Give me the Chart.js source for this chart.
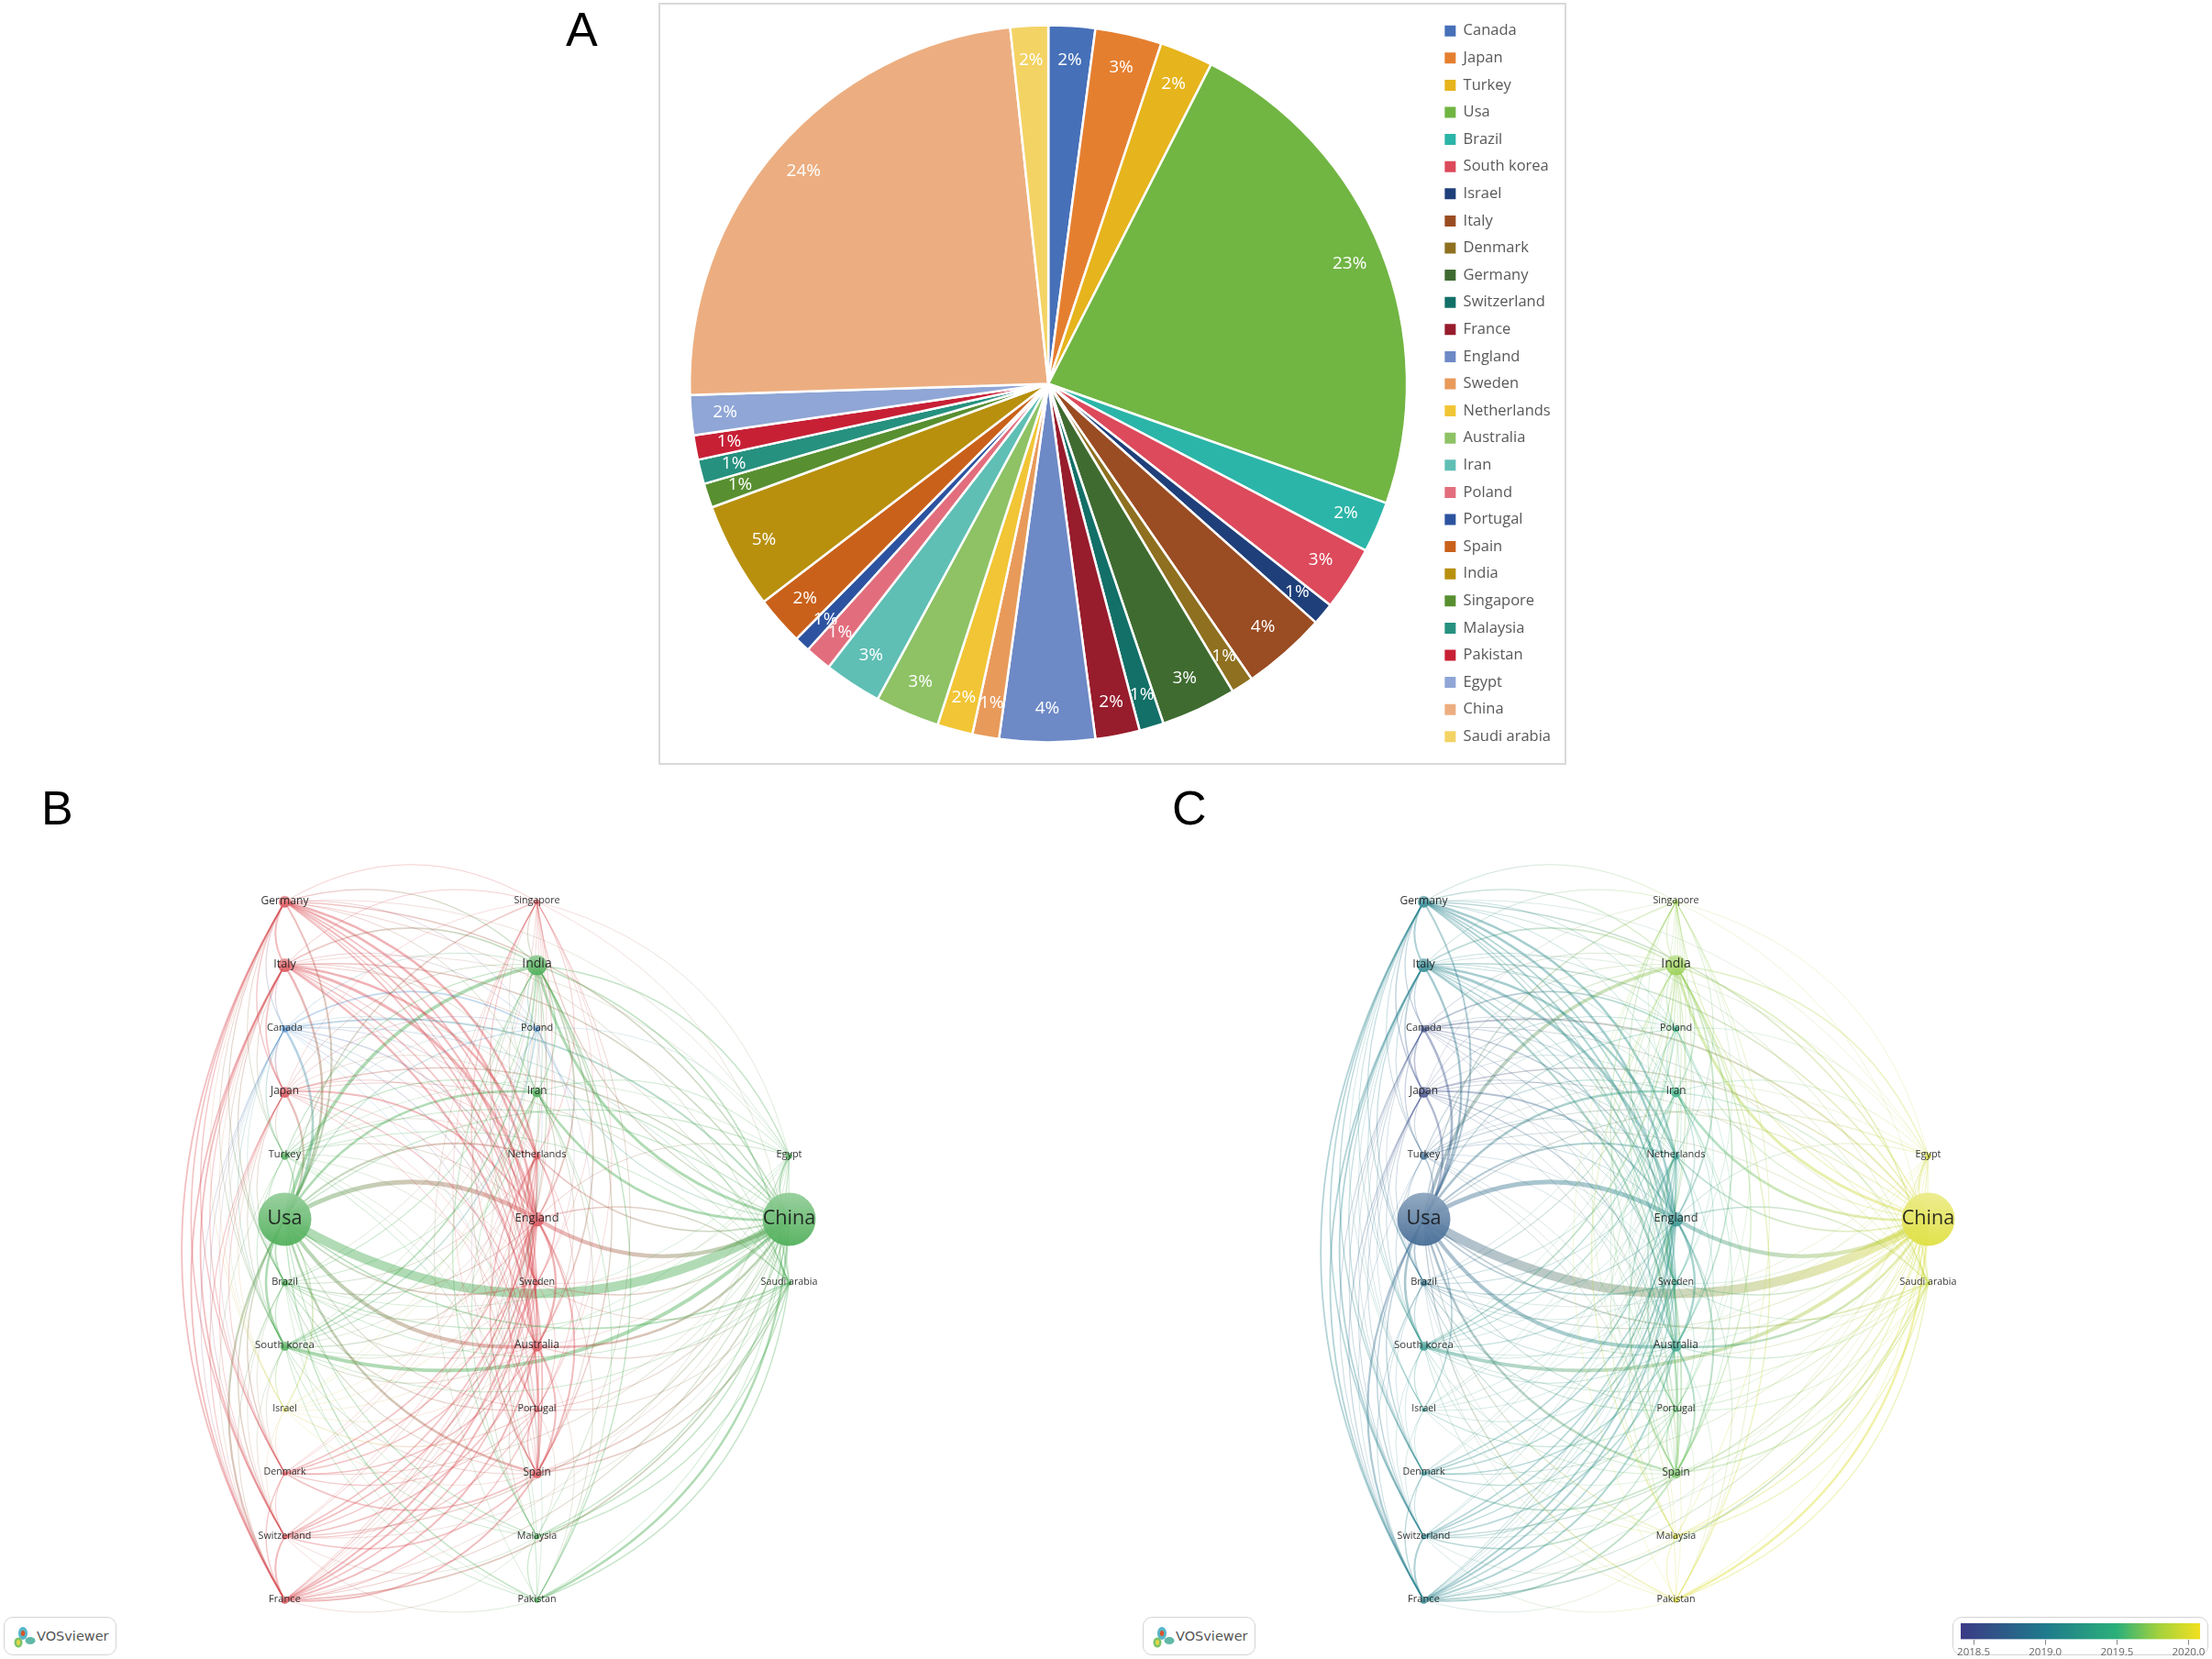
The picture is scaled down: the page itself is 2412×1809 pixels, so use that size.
<!DOCTYPE html>
<html><head><meta charset="utf-8">
<script src="https://cdn.jsdelivr.net/npm/chart.js@4/dist/chart.umd.min.js"></script>
<style>
html,body{margin:0;padding:0;background:#fff;width:2412px;height:1809px;overflow:hidden}
canvas{position:absolute;display:block}
.letter{position:absolute;font-family:"Liberation Sans",Arial,sans-serif;font-size:52px;color:#000;line-height:52px}
#frame{position:absolute;left:718px;top:3px;width:986px;height:827px;border:2px solid #d9d9d9}
.badge{position:absolute;top:1763px;width:121px;height:40px;border:1.5px solid #d4d4d4;border-radius:10px;background:#fff;font-family:"DejaVu Sans",sans-serif;font-size:14.5px;color:#555;line-height:40px}
.badge span{position:absolute;left:35px}
.badge svg{position:absolute;left:9px;top:8px}
#cbbox{position:absolute;left:2129px;top:1763px;width:277px;height:40px;border:1.5px solid #d4d4d4;border-radius:10px;background:#fff}
</style></head><body>
<div id="frame"></div>
<canvas id="pie" width="977" height="825" style="left:724px;top:6px"></canvas>
<div class="letter" style="left:617px;top:6px">A</div>
<div class="letter" style="left:45px;top:855px">B</div>
<div class="letter" style="left:1278px;top:855px">C</div>
<canvas id="netB" width="883" height="958" style="left:143.5px;top:885px"></canvas>
<canvas id="netC" width="883" height="958" style="left:1386px;top:885px"></canvas>
<div class="badge" style="left:4px"><svg width="26" height="26" viewBox="0 0 26 26"><ellipse cx="11" cy="9" rx="5" ry="7" fill="#58b6c9"/><ellipse cx="6" cy="19" rx="4.5" ry="5.5" fill="#7cc26a"/><ellipse cx="19" cy="17" rx="5.5" ry="4" fill="#5fb8a8"/><ellipse cx="6" cy="19" rx="2" ry="3" fill="#e3d84a"/><ellipse cx="11" cy="9" rx="2.2" ry="3" fill="#d8532a"/></svg><span>VOSviewer</span></div>
<div class="badge" style="left:1246px"><svg width="26" height="26" viewBox="0 0 26 26"><ellipse cx="11" cy="9" rx="5" ry="7" fill="#58b6c9"/><ellipse cx="6" cy="19" rx="4.5" ry="5.5" fill="#7cc26a"/><ellipse cx="19" cy="17" rx="5.5" ry="4" fill="#5fb8a8"/><ellipse cx="6" cy="19" rx="2" ry="3" fill="#e3d84a"/><ellipse cx="11" cy="9" rx="2.2" ry="3" fill="#d8532a"/></svg><span>VOSviewer</span></div>
<div id="cbbox"></div>
<canvas id="cbar" width="279" height="42" style="left:2129px;top:1763px"></canvas>
<script>
// ---------- Panel A ----------
const pieCountries = ["Canada","Japan","Turkey","Usa","Brazil","South korea","Israel","Italy","Denmark","Germany","Switzerland","France","England","Sweden","Netherlands","Australia","Iran","Poland","Portugal","Spain","India","Singapore","Malaysia","Pakistan","Egypt","China","Saudi arabia"];
const pieShares = [2.1,3.0,2.4,22.9,2.3,2.9,1.0,3.8,1.0,3.4,1.1,2.0,4.3,1.2,1.6,2.9,2.6,1.2,0.7,2.2,4.8,1.1,1.1,1.1,1.8,23.8,1.7];
const pieColors = ["#4670B8","#E57F30","#E6B41C","#71B543","#2BB5A8","#DC4A5C","#1F3F7A","#9A4C22","#8E7020","#3F6B30","#127068","#971C2C","#6D89C6","#E89A5A","#F1C535","#8EC265","#5FBFB5","#E26E7D","#2D53A0","#C9611A","#B8900E","#588F30","#26917F","#C72035","#8FA6D6","#ECAE80","#F4D365"];

// ---------- Panels B and C ----------
const nodeNames  = ["Germany","Italy","Canada","Japan","Turkey","Usa","Brazil","South korea","Israel","Denmark","Switzerland","France","Singapore","India","Poland","Iran","Netherlands","England","Sweden","Australia","Portugal","Spain","Malaysia","Pakistan","Egypt","China","Saudi arabia"];
const nodeColumn = [0,0,0,0,0,0,0,0,0,0,0,0,1,1,1,1,1,1,1,1,1,1,1,1,2,2,2];
const nodeRow    = [0,1,2,3,4,5,6,7,8,9,10,11,0,1,2,3,4,5,6,7,8,9,10,11,4,5,6];
const nodeRadius = [6.5,7.5,4,6,4.5,29,4,5,2.5,3,3,4,3,11,3.5,5.5,4,8,3,6,3,5.5,3,3,3.5,29,3];
const nodeCluster= ["red","red","blue","red","green","green","green","green","yellow","red","red","red","red","green","blue","green","red","red","red","red","red","red","green","green","green","green","green"];
const nodeYear   = [2019.05,2019.05,2018.55,2018.5,2018.75,2018.7,2018.9,2019.2,2019.2,2019.1,2019.05,2019.05,2019.75,2019.75,2019.45,2019.45,2019.25,2019.15,2019.3,2019.3,2019.6,2019.65,2019.95,2020,2019.95,2020,2019.9];
const clusterColors = {red:"#d8434a",green:"#3aa545",blue:"#4c8fcc",yellow:"#d4d84a"};
const yearStops = [[2018.41,"#3b3a85"],[2019.0,"#1f7a8c"],[2019.5,"#2cb07a"],[2019.8,"#a6d23c"],[2020.08,"#f2e020"]];
const yearTicks = [2018.5,2019.0,2019.5,2020.0];
const linkRows = [
 ["Usa",{China:47,England:22,India:15,Australia:16,Iran:10,Canada:10,Germany:7,Italy:9,Japan:8,"South korea":10,Netherlands:7,Spain:9,"Saudi arabia":6,Brazil:6,Turkey:5,France:8,Switzerland:4,Denmark:4,Sweden:5,Israel:5,Poland:3,Portugal:3,Singapore:4,Malaysia:3,Pakistan:4,Egypt:3}],
 ["China",{England:18,Australia:10,India:12,Iran:10,"South korea":17,Japan:5,Canada:7,Germany:5,Italy:5,Singapore:4,Netherlands:5,Pakistan:9,"Saudi arabia":6,Egypt:5,Malaysia:4,Spain:5,Brazil:3,Turkey:3,Poland:3,Sweden:4,France:3,Denmark:2,Switzerland:3,Portugal:3}],
 ["India",{England:6,Italy:5,Germany:4,Iran:4,"Saudi arabia":5,"South korea":6,Australia:5,Spain:4,Japan:2,Egypt:4,Malaysia:3,Pakistan:4,Turkey:3,Canada:2,Brazil:3,Singapore:3,Poland:3,Netherlands:2,France:3,Portugal:2,Sweden:2,Denmark:1,Switzerland:2,Israel:1}],
 ["England",{Italy:13,Germany:10,Netherlands:8,Australia:9,Sweden:8,Spain:7,France:7,Japan:7,Switzerland:6,Denmark:6,Portugal:5,Canada:4,Singapore:3,Iran:3,Turkey:2,Brazil:3,Poland:2,"South korea":3,Egypt:2,"Saudi arabia":4,Pakistan:2,Malaysia:2,Israel:1}],
 ["Germany",{Italy:7,France:6,Spain:6,Netherlands:9,Switzerland:5,Sweden:6,Australia:7,Denmark:4,Japan:4,Canada:3,Singapore:2,Portugal:3,Iran:2,Poland:2,Turkey:2,Brazil:3,"South korea":2,"Saudi arabia":2,Egypt:1,Israel:1}],
 ["Italy",{France:6,Spain:8,Netherlands:10,Switzerland:6,Australia:5,Sweden:3,Denmark:3,Japan:5,Canada:3,Portugal:2,Singapore:2,Iran:2,Poland:2,Turkey:2,Brazil:3,"South korea":2,Israel:1,"Saudi arabia":2,Egypt:1}],
 ["France",{Spain:7,Switzerland:7,Denmark:4,Netherlands:7,Australia:7,Sweden:5,Canada:2,Japan:3,Portugal:4,Singapore:2,Brazil:2,"Saudi arabia":6,Malaysia:1,Turkey:1,Iran:1,Poland:1,Egypt:1}],
 ["Spain",{Australia:7,Portugal:5,Netherlands:5,Denmark:5,Switzerland:5,Sweden:3,Japan:2,Canada:2,Brazil:3,"Saudi arabia":4,Iran:2,Egypt:1,Poland:1,Singapore:1}],
 ["Australia",{Netherlands:4,Sweden:4,Denmark:5,Switzerland:5,Portugal:5,Japan:4,Canada:3,Singapore:3,Iran:2,"Saudi arabia":3,Malaysia:2,Pakistan:1,"South korea":2,Brazil:2,Egypt:1,Turkey:1,Israel:1}],
 ["Netherlands",{Sweden:5,Denmark:5,Switzerland:5,Japan:2,Canada:2,Portugal:2,Brazil:2,"South korea":1,Singapore:2,Iran:1,Poland:1,Turkey:1}],
 ["Canada",{Poland:6,Japan:5,Turkey:3,"South korea":2,Sweden:2,Switzerland:2,Denmark:1,Iran:1,Israel:1,Brazil:1,Pakistan:1,"Saudi arabia":2}],
 ["Poland",{Iran:2,Sweden:1,Portugal:1,Turkey:1,Japan:2,Egypt:1,"South korea":4}],
 ["Japan",{Turkey:2,"South korea":2,Singapore:1,Iran:1,Sweden:2,Denmark:2,Switzerland:2,Brazil:2,Portugal:1,"Saudi arabia":2,Israel:1}],
 ["Iran",{Turkey:3,"South korea":3,"Saudi arabia":3,Egypt:2,Malaysia:2,Pakistan:2,Singapore:1,Brazil:2,Sweden:1,Portugal:1}],
 ["Turkey",{"South korea":2,Brazil:2,"Saudi arabia":2,Egypt:1,Pakistan:2,Malaysia:1,Spain:1,Sweden:1}],
 ["Brazil",{"South korea":3,Portugal:3,"Saudi arabia":2,Denmark:1,Sweden:1,Switzerland:1,Egypt:1,Pakistan:1,Malaysia:1,Singapore:1}],
 ["South korea",{"Saudi arabia":2,Pakistan:2,Egypt:1,Malaysia:2,Sweden:1,Spain:2,Singapore:1,Israel:3,Denmark:1,Switzerland:1}],
 ["Israel",{Portugal:3,Spain:1,Sweden:1,Denmark:1,Switzerland:1,Netherlands:1,Singapore:1}],
 ["Denmark",{Switzerland:2,Sweden:4,Portugal:3,Singapore:1}],
 ["Switzerland",{Sweden:4,Portugal:3,Singapore:1,Pakistan:1,"Saudi arabia":1,Malaysia:1}],
 ["Sweden",{Portugal:2,Singapore:1,"Saudi arabia":2,Egypt:1}],
 ["Portugal",{"Saudi arabia":2,Singapore:1,Malaysia:1,Egypt:1}],
 ["Singapore",{Egypt:1,Malaysia:2,Pakistan:1,"Saudi arabia":1}],
 ["Malaysia",{Pakistan:3,"Saudi arabia":4,Egypt:3}],
 ["Pakistan",{"Saudi arabia":4,Egypt:2}],
 ["Egypt",{"Saudi arabia":2}]
];

Chart.defaults.animation = false;
Chart.defaults.font.family = '"Open Sans",sans-serif';

function hexRgb(h){return [1,3,5].map(i=>parseInt(h.substr(i,2),16));}
function rgba(c,a){return `rgba(${c[0]|0},${c[1]|0},${c[2]|0},${a})`;}
function mixWhite(c,t){return c.map(v=>v+(255-v)*t);}
function yearColor(y){
  for(let i=1;i<yearStops.length;i++){
    if(y<=yearStops[i][0]){
      const [y0,a]=yearStops[i-1],[y1,b]=yearStops[i];
      const t=Math.max(0,(y-y0)/(y1-y0)),A=hexRgb(a),B=hexRgb(b);
      return A.map((v,k)=>v+(B[k]-v)*t);
    }
  }
  return hexRgb(yearStops[yearStops.length-1][1]);
}

// ---- pie percent labels ----
const pieLabelPlugin={id:'pieLabels',afterDatasetsDraw(chart){
  const {ctx}=chart,meta=chart.getDatasetMeta(0);
  ctx.save();ctx.font='19px "Open Sans",sans-serif';ctx.fillStyle='#fff';ctx.textAlign='center';ctx.textBaseline='middle';
  meta.data.forEach((arc,i)=>{
    const mid=(arc.startAngle+arc.endAngle)/2,r=arc.outerRadius*0.905;
    ctx.fillText(Math.round(pieShares[i])+'%',arc.x+Math.cos(mid)*r,arc.y+Math.sin(mid)*r);
  });
  ctx.restore();
}};
new Chart(document.getElementById('pie'),{
  type:'pie',
  data:{labels:pieCountries,datasets:[{data:pieShares,backgroundColor:pieColors,borderColor:'#fff',borderWidth:2.5,radius:391}]},
  options:{responsive:false,layout:{padding:0},
    plugins:{tooltip:{enabled:false},
      legend:{position:'right',labels:{boxWidth:12,boxHeight:12,padding:13.1,color:'#595959',font:{size:16.5,family:'"Open Sans",sans-serif'},
        generateLabels:()=>pieCountries.map((t,i)=>({text:t,fillStyle:pieColors[i],strokeStyle:pieColors[i],lineWidth:0,index:i,fontColor:'#595959'}))}}}},
  plugins:[pieLabelPlugin]
});

// ---- network panels ----
const idx=Object.fromEntries(nodeNames.map((n,i)=>[n,i]));
const linkList=[];
linkRows.forEach(([a,m])=>Object.entries(m).forEach(([b,w])=>linkList.push([idx[a],idx[b],w])));
linkList.sort((p,q)=>p[2]-q[2]);

// which end comes first decides on which side of the chord a link bows
function orient(a,b){
  if(nodeColumn[a]>nodeColumn[b]) [a,b]=[b,a];
  if(nodeColumn[a]===nodeColumn[b]){
    if(nodeRow[a]>nodeRow[b]) [a,b]=[b,a];
    if(nodeColumn[a]===0){
      if(nodeNames[b]==="Usa") return [b,a];
      if(nodeNames[a]==="Usa"&&nodeNames[b]==="Israel") return [b,a];
      return [a,b];
    }
    if(nodeColumn[a]===1) return (nodeRow[a]+nodeRow[b])%2?[a,b]:[b,a];
    return [a,b];
  }
  if(nodeNames[b]==="China"){
    if(nodeColumn[a]===1) return [a,b];
    return nodeRow[a]<5?[b,a]:[a,b];
  }
  if(nodeNames[a]==="Usa") return nodeRow[b]<=5?[b,a]:[a,b];
  return nodeRow[a]<=5?[b,a]:[a,b];
}
const curvePlugin={id:'curvedLinks',
  beforeDatasetDraw(chart,args){
    if(args.meta.type!=='line') return;
    const ds=chart.data.datasets[args.index],[p,q]=args.meta.data,ctx=chart.ctx;
    if(![p.x,p.y,q.x,q.y].every(Number.isFinite)) return false;
    const dx=q.x-p.x,dy=q.y-p.y,k=0.295;
    const cx=(p.x+q.x)/2-dy*k,cy=(p.y+q.y)/2+dx*k;
    const g=ctx.createLinearGradient(p.x,p.y,q.x,q.y);
    g.addColorStop(0,rgba(ds.endColors[0],ds.alpha));g.addColorStop(1,rgba(ds.endColors[1],ds.alpha));
    ctx.save();ctx.strokeStyle=g;ctx.lineWidth=ds.borderWidth;ctx.lineCap='round';
    ctx.beginPath();ctx.moveTo(p.x,p.y);ctx.quadraticCurveTo(cx,cy,q.x,q.y);ctx.stroke();ctx.restore();
    return false;
  },
  afterDatasetsDraw(chart){
    const ctx=chart.ctx,meta=chart.getDatasetMeta(chart.data.datasets.length-1);
    ctx.save();ctx.textAlign='center';ctx.textBaseline='middle';ctx.fillStyle='rgba(20,20,20,.88)';
    meta.data.forEach((pt,i)=>{
      ctx.font=(9.4+0.42*nodeRadius[i]).toFixed(1)+'px "Open Sans",sans-serif';
      ctx.fillText(nodeNames[i],pt.x,pt.y-1);
    });
    ctx.restore();
  }
};
function makeNetwork(id,colorOf){
  const cols=nodeNames.map((_,i)=>colorOf(i));
  const datasets=linkList.map(([a,b,w])=>{
    const [f,t]=orient(a,b);
    return {type:'line',order:1,clip:false,
      data:[{x:nodeColumn[f],y:nodeRow[f]},{x:nodeColumn[t],y:nodeRow[t]}],
      borderWidth:Math.min(10,0.6+0.2*w),pointRadius:0,alpha:Math.min(0.4,0.22+0.02*w),endColors:[cols[f],cols[t]]};
  });
  datasets.push({type:'bubble',order:0,clip:false,hoverRadius:0,
    data:nodeNames.map((_,i)=>({x:nodeColumn[i],y:nodeRow[i],r:nodeRadius[i]})),
    borderWidth:0,
    backgroundColor(c){
      const i=c.dataIndex,ch=c.chart;
      if(i===undefined||!ch.chartArea||!ch.scales.y) return '#999';
      const y=ch.scales.y.getPixelForValue(nodeRow[i]),r=nodeRadius[i];
      if(!Number.isFinite(y)) return '#999';
      const g=ch.ctx.createLinearGradient(0,y-r,0,y+r);
      g.addColorStop(0,rgba(mixWhite(cols[i],.45),.92));g.addColorStop(1,rgba(mixWhite(cols[i],.1),.92));
      return g;
    }});
  new Chart(document.getElementById(id),{
    type:'scatter',data:{datasets},
    options:{responsive:false,layout:{padding:0},
      plugins:{legend:{display:false},tooltip:{enabled:false}},
      scales:{x:{type:'linear',display:false,min:-0.5,max:2.5},
              y:{type:'linear',display:false,reverse:true,min:-1,max:12}}},
    plugins:[curvePlugin]
  });
}
makeNetwork('netB',i=>hexRgb(clusterColors[nodeCluster[i]]));
makeNetwork('netC',i=>yearColor(nodeYear[i]));

// ---- colour bar ----
const cbMin=yearStops[0][0],cbMax=yearStops[yearStops.length-1][0];
new Chart(document.getElementById('cbar'),{
  type:'bar',
  data:{labels:['score'],datasets:[{data:[[cbMin,cbMax]],barPercentage:1,categoryPercentage:1,borderWidth:0,
    backgroundColor(c){
      const a=c.chart.chartArea;if(!a) return '#999';
      const g=c.chart.ctx.createLinearGradient(a.left,0,a.right,0);
      yearStops.forEach(([y,col])=>g.addColorStop((y-cbMin)/(cbMax-cbMin),col));
      return g;
    }}]},
  options:{responsive:false,indexAxis:'y',layout:{padding:{left:9,right:9,top:7,bottom:0}},
    plugins:{legend:{display:false},tooltip:{enabled:false}},
    scales:{y:{display:false},
      x:{type:'linear',min:cbMin,max:cbMax,afterBuildTicks(ax){ax.ticks=yearTicks.map(v=>({value:v}));},
        border:{display:false},grid:{drawOnChartArea:false,tickLength:6,color:'#888'},
        ticks:{padding:1,maxRotation:0,color:'#666',font:{size:11.5},callback:v=>Number(v).toFixed(1)}}}}
});
</script>
</body></html>
